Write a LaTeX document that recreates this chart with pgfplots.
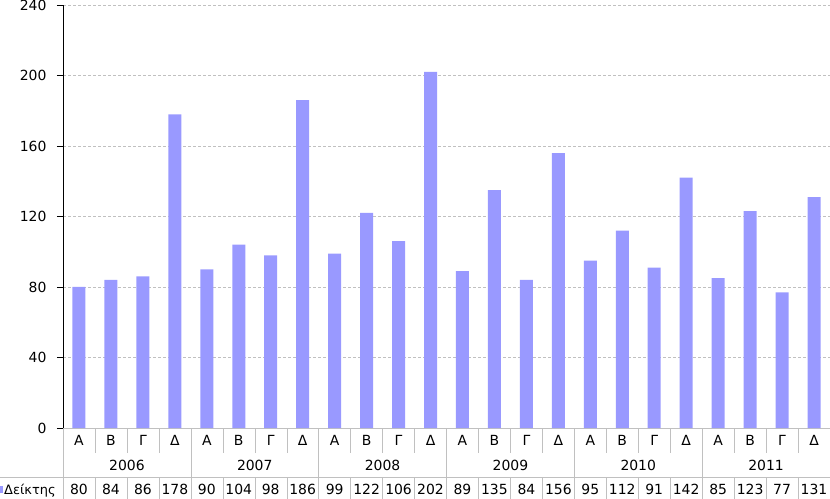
\documentclass[border=0pt]{standalone}
\usepackage{pgfplots}
\pgfplotsset{compat=1.18}
\usepackage{fontspec}
\setmainfont{DejaVu Sans}
\definecolor{barblue}{HTML}{9999FF}
\definecolor{tgray}{HTML}{C0C0C0}
\begin{document}
\begin{tikzpicture}[font=\fontsize{14}{16}\selectfont]
\begin{axis}[
  scale only axis, width=767bp, height=423bp,
  at={(0,0)}, anchor=south west,
  xmin=-0.5, xmax=23.5, ymin=0, ymax=240,
  ytick={0,40,...,240},
  xtick=\empty,
  ymajorgrids,
  grid style={dash pattern=on 3bp off 2bp, color=tgray},
  axis x line*=bottom, axis y line*=left,
  x axis line style={color=tgray},
  y axis line style={black},
  tick align=outside, major tick length=6bp,
  ytick style={black},
  yticklabel style={xshift=-7bp},
  /pgf/number format/assume math mode=true,
  ybar, bar width=13bp,
  clip=false,
]
\addplot[fill=barblue, draw=none] coordinates {
(0,80) (1,84) (2,86) (3,178)
(4,90) (5,104) (6,98) (7,186)
(8,99) (9,122) (10,106) (11,202)
(12,89) (13,135) (14,84) (15,156)
(16,95) (17,112) (18,91) (19,142)
(20,85) (21,123) (22,77) (23,131)
};
\end{axis}
\def\cw{31.9583}
% quarter labels
\foreach \q [count=\i from 0] in {Α,Β,Γ,Δ,Α,Β,Γ,Δ,Α,Β,Γ,Δ,Α,Β,Γ,Δ,Α,Β,Γ,Δ,Α,Β,Γ,Δ}
  \node[anchor=base] at ({(\i+0.5)*\cw*1bp},{-17bp}) {\q};
% years
\foreach \yr [count=\k from 0] in {2006,2007,2008,2009,2010,2011}
  \node[anchor=base] at ({(\k*4+2)*\cw*1bp},{-42bp}) {\yr};
% values
\foreach \v [count=\i from 0] in {80,84,86,178,90,104,98,186,99,122,106,202,89,135,84,156,95,112,91,142,85,123,77,131}
  \node[anchor=base] at ({(\i+0.5)*\cw*1bp},{-66bp}) {\v};
% lines
\foreach \i in {1,...,23}{
  \draw[tgray] ({\i*\cw*1bp},0) -- ({\i*\cw*1bp},{-25bp});
  \draw[tgray] ({\i*\cw*1bp},{-49bp}) -- ({\i*\cw*1bp},{-72bp});
}
\foreach \k in {0,...,6}
  \draw[tgray] ({\k*4*\cw*1bp},0) -- ({\k*4*\cw*1bp},{-72bp});
\draw[tgray] (-64bp,-49bp) -- (768bp,-49bp);
\fill[barblue] (-70bp,-65bp) rectangle (-60bp,-58bp);
\node[anchor=base west, inner sep=0pt, font=\fontsize{13}{15}\selectfont] at (-59bp,-66bp) {Δείκτης};
\pgfresetboundingbox
\useasboundingbox (-63bp,-71bp) rectangle (767bp,428bp);
\end{tikzpicture}
\end{document}
